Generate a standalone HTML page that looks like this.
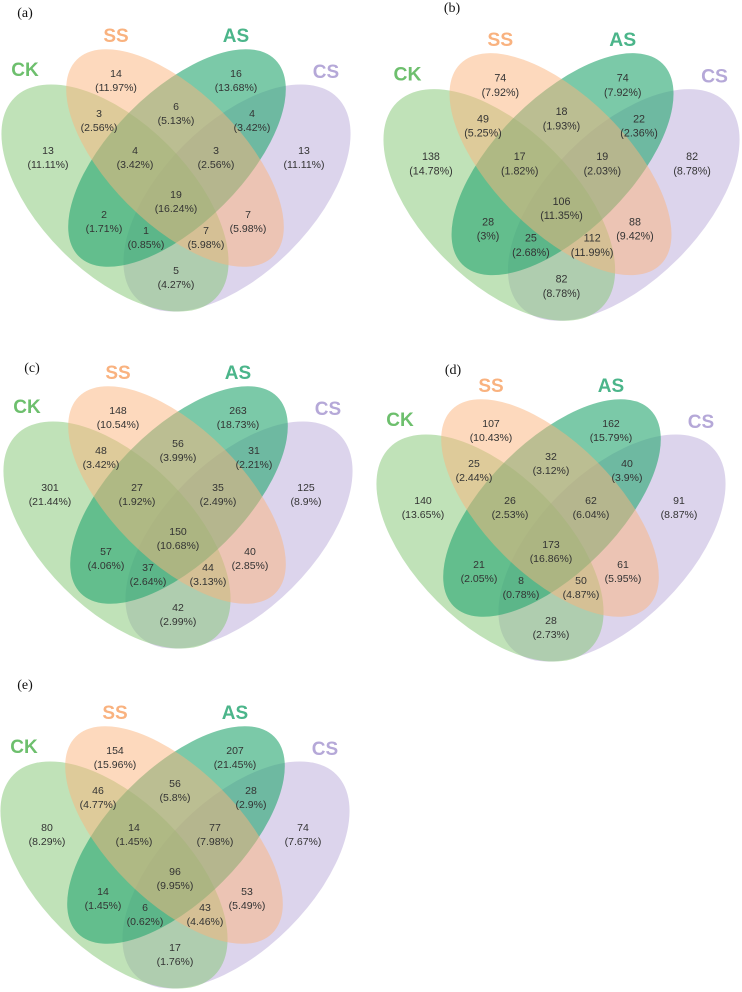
<!DOCTYPE html>
<html><head><meta charset="utf-8"><style>
html,body{margin:0;padding:0;background:#fff;}
svg{display:block;}
.num{font-family:"Liberation Sans",sans-serif;font-size:10.5px;fill:#333;text-anchor:middle;}
.cat{font-family:"Liberation Sans",sans-serif;font-size:19px;font-weight:bold;text-anchor:middle;}
.plab{font-family:"Liberation Serif",serif;font-size:14px;fill:#111;text-anchor:middle;}
</style></head><body>
<svg id="fig" width="742" height="992" viewBox="0 0 742 992" xmlns="http://www.w3.org/2000/svg"></svg>
<script>
const setNames = ["CK","SS","AS","CS"];
const panelLetters = ["(a)","(b)","(c)","(d)","(e)"];
// region order: CK, SS, AS, CS, CK&SS, SS&AS, AS&CS, CK&SS&AS, SS&AS&CS, all, CK&AS, CK&AS&CS, CK&SS&CS, SS&CS, CK&CS
const regionNames = ["ck-only","ss-only","as-only","cs-only","ck-ss","ss-as","as-cs","ck-ss-as","ss-as-cs","all-four","ck-as","ck-as-cs","ck-ss-cs","ss-cs","ck-cs"];
const countsA = [13,14,16,13,3,6,4,4,3,19,2,1,7,7,5];
const pctA = ["11.11%","11.97%","13.68%","11.11%","2.56%","5.13%","3.42%","3.42%","2.56%","16.24%","1.71%","0.85%","5.98%","5.98%","4.27%"];
const countsB = [138,74,74,82,49,18,22,17,19,106,28,25,112,88,82];
const pctB = ["14.78%","7.92%","7.92%","8.78%","5.25%","1.93%","2.36%","1.82%","2.03%","11.35%","3%","2.68%","11.99%","9.42%","8.78%"];
const countsC = [301,148,263,125,48,56,31,27,35,150,57,37,44,40,42];
const pctC = ["21.44%","10.54%","18.73%","8.9%","3.42%","3.99%","2.21%","1.92%","2.49%","10.68%","4.06%","2.64%","3.13%","2.85%","2.99%"];
const countsD = [140,107,162,91,25,32,40,26,62,173,21,8,50,61,28];
const pctD = ["13.65%","10.43%","15.79%","8.87%","2.44%","3.12%","3.9%","2.53%","6.04%","16.86%","2.05%","0.78%","4.87%","5.95%","2.73%"];
const countsE = [80,154,207,74,46,56,28,14,77,96,14,6,43,53,17];
const pctE = ["8.29%","15.96%","21.45%","7.67%","4.77%","5.8%","2.9%","1.45%","7.98%","9.95%","1.45%","0.62%","4.46%","5.49%","1.76%"];

const NS="http://www.w3.org/2000/svg";
const svg=document.getElementById('fig');
function mk(tag,attrs,parent){const e=document.createElementNS(NS,tag);for(const k in attrs)e.setAttribute(k,attrs[k]);parent.appendChild(e);return e;}
const regionPos=[[48,150],[116,73],[236,73],[304,150],[99,113],[176,106],[252,113],[135,150],[216,150],[176,194],[104,214],[146,230],[206,230],[248,214],[176,270]];
const ellipses=[
 {cx:237,cy:198,rx:142,ry:75,rot:-45,fill:"#b9a9d9",op:0.5},
 {cx:115,cy:198,rx:142,ry:75,rot:45,fill:"#81c571",op:0.5},
 {cx:177,cy:158,rx:139,ry:66,rot:-45,fill:"#2aa873",op:0.62},
 {cx:175,cy:158,rx:139,ry:66,rot:45,fill:"#fbb37b",op:0.5}];
const ellSet=["CS","CK","AS","SS"];
const catPos={CK:[25,76],SS:[116,42],AS:[236,42],CS:[326,78]};
const catCol={CK:"#6dbf6d",SS:"#f9b27f",AS:"#4bb58a",CS:"#b5a8d8"};
const panels=[
 {c:countsA,p:pctA,tf:"translate(0,0)",lab:[25,17]},
 {c:countsB,p:pctB,tf:"translate(382,3) scale(1.02)",lab:[452,12]},
 {c:countsC,p:pctC,tf:"translate(2,337)",lab:[32,372]},
 {c:countsD,p:pctD,tf:"translate(375,350)",lab:[453,374]},
 {c:countsE,p:pctE,tf:"translate(-1,677)",lab:[25,689]}];
panels.forEach((pn,i)=>{
  const g=mk('g',{transform:pn.tf},svg);
  
  
  ellipses.forEach((e,j)=>{
    const el=mk('ellipse',{cx:e.cx,cy:e.cy,rx:e.rx,ry:e.ry,fill:e.fill,'fill-opacity':e.op,transform:`rotate(${e.rot} ${e.cx} ${e.cy})`},g);
    
    
  });
  setNames.forEach(s=>{
    const t=mk('text',{x:catPos[s][0],y:catPos[s][1],class:'cat',fill:catCol[s]},g);
    t.textContent=s;
    
    
  });
  pn.c.forEach((v,k)=>{
    const t=mk('text',{x:regionPos[k][0],y:regionPos[k][1]+4,class:'num'},g);
    t.textContent=String(v);
    
    
    const t2=mk('text',{x:regionPos[k][0],y:regionPos[k][1]+18,class:'num'},g);
    t2.textContent='('+pn.p[k]+')';
    
    
  });
  const pl=mk('text',{x:pn.lab[0],y:pn.lab[1],class:'plab'},svg);
  pl.textContent=panelLetters[i];
  
  
});
</script>
</body></html>
